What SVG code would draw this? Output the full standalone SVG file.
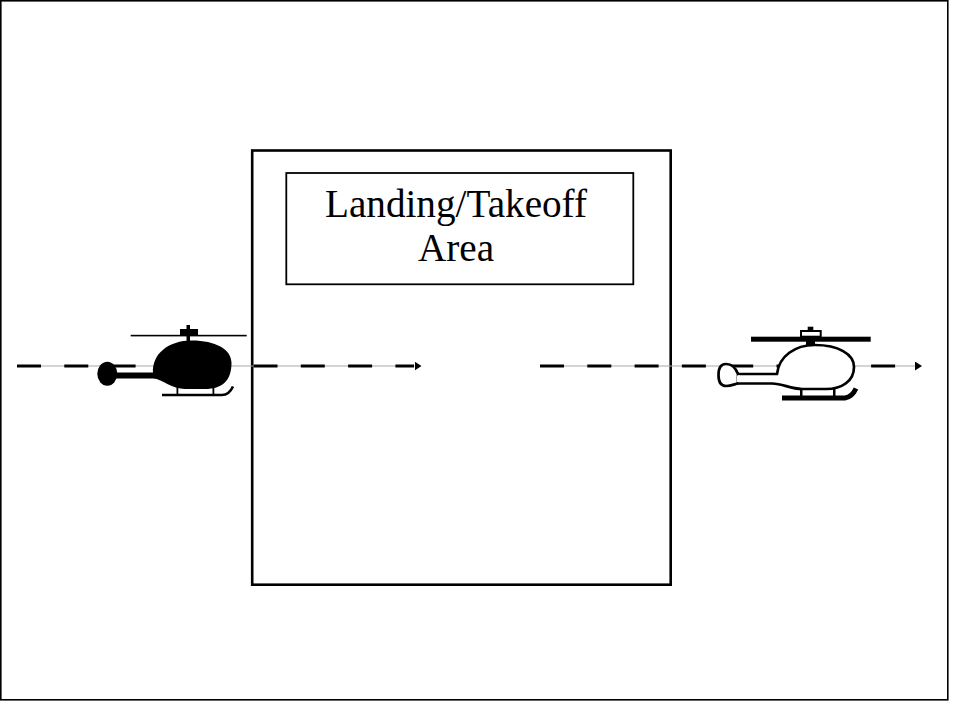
<svg xmlns="http://www.w3.org/2000/svg" width="955" height="706" viewBox="0 0 955 706">
<style>
.frame{fill:#fff;stroke:#000;stroke-width:1.6}
.box{fill:none;stroke:#000}
.label{font-family:"Liberation Serif","Times New Roman",serif;font-size:39.2px;fill:#000;text-anchor:middle}
.guide{stroke:#a8a8a8;stroke-width:1;fill:none}
.dash{stroke:#000;stroke-width:3.2;stroke-dasharray:24 23.3;fill:none}
.blk{fill:#000}
.wht{fill:#fff;stroke:#000;stroke-width:2.7;stroke-linejoin:round}
</style>
<defs>
<marker id="tri" markerUnits="userSpaceOnUse" markerWidth="8" markerHeight="10" refX="0" refY="4.5" orient="auto">
<path d="M0,0 L7,4.5 L0,9 Z" fill="#000"/>
</marker>
</defs>
<rect id="frame" class="frame" x="0.8" y="0.8" width="947" height="699"/>
<g id="area">
<rect class="box" x="252.2" y="150.5" width="418.5" height="434.2" stroke-width="2.6"/>
</g>
<g id="label">
<rect class="box" x="286.3" y="173" width="347" height="111.3" stroke-width="1.8"/>
<text class="label" x="456" y="217">Landing/Takeoff</text>
<text class="label" x="456" y="261">Area</text>
</g>
<g id="connectors">
<line class="guide" x1="17" y1="366" x2="414.5" y2="366" marker-end="url(#tri)"/>
<line class="dash" x1="17" y1="366" x2="414" y2="366"/>
<line class="guide" x1="540" y1="366" x2="915" y2="366" marker-end="url(#tri)"/>
<line class="dash" x1="540" y1="366" x2="915" y2="366"/>
</g>
<g id="helicopter-left">
<rect class="blk" x="130.7" y="334.8" width="116" height="1.6"/>
<rect class="blk" x="180" y="329" width="18" height="6"/>
<rect class="blk" x="186.5" y="325" width="3.5" height="5"/>
<rect class="blk" x="186.5" y="335" width="3.5" height="7"/>
<rect class="blk" x="112" y="372.5" width="44" height="6"/>
<ellipse class="blk" cx="107.3" cy="373.8" rx="10" ry="12"/>
<path class="blk" d="M153 373 C152 354 168 340.5 192 340.5 C215 340.5 231.5 349 231.5 363 C231.5 381 222 389 205 389 L185 389 C172 389 163 380 153 378 Z"/>
<rect class="blk" x="176.5" y="386" width="1.8" height="9"/>
<rect class="blk" x="212.5" y="386" width="1.8" height="9"/>
<path d="M162 395 L222 395 Q229 395 233 386.5" fill="none" stroke="#000" stroke-width="2.6"/>
</g>
<g id="helicopter-right">
<rect class="blk" x="751" y="336.7" width="119.7" height="5"/>
<rect class="blk" x="807.7" y="326.7" width="5.6" height="4.5"/>
<rect x="801" y="331" width="19.7" height="5.7" fill="#fff" stroke="#000" stroke-width="2"/>
<rect class="blk" x="806" y="341" width="9" height="5"/>
<path class="wht" d="M738 374 C735 366 730 364 726 364 C720 364 718.5 369 718.5 375 C718.5 381 720 386 726 386 C731 386 735 384 738 383.5 Z"/>
<path class="wht" d="M738 374 L777 374 C779 356 795 345 815 345 C838 345 854 354 854 367 C854 381 842 389 826 389 L802 389 C790 389 783 383.5 772 383.5 L738 383.5"/>
<rect x="737" y="375.5" width="3" height="6.5" fill="#fff"/>
<rect class="blk" x="800" y="389" width="2.5" height="7"/>
<rect class="blk" x="833" y="389" width="2.5" height="7"/>
<path d="M782 398 L845 398 Q852 397 856 388.5" fill="none" stroke="#000" stroke-width="5"/>
</g>
</svg>
